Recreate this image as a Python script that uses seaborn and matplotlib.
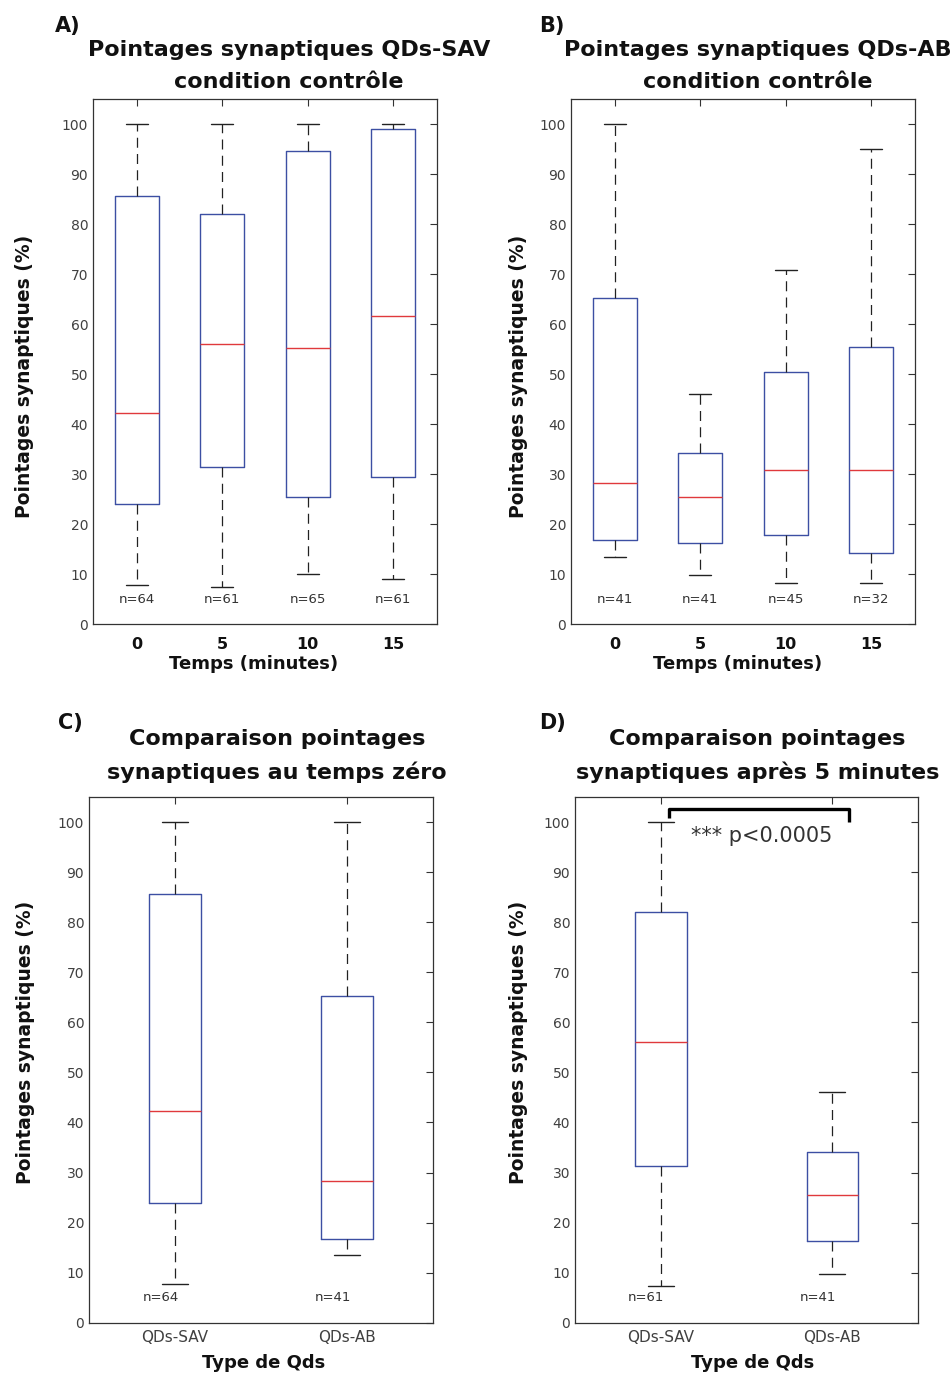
import matplotlib
matplotlib.use("Agg")
import matplotlib.pyplot as plt
import seaborn as sns
import pandas as pd

# --- valeurs (résumés en 5 nombres par boîte) ---
temps = ["0", "5", "10", "15"]

sav_min = [7.8, 7.4, 10.1, 9.1]
sav_q1 = [24.0, 31.4, 25.4, 29.4]
sav_med = [42.2, 56.1, 55.3, 61.6]
sav_q3 = [85.7, 82.0, 94.7, 99.0]
sav_max = [100.0, 100.0, 100.0, 100.0]
sav_n = [64, 61, 65, 61]

ab_min = [13.5, 9.8, 8.3, 8.3]
ab_q1 = [16.8, 16.3, 17.8, 14.2]
ab_med = [28.3, 25.5, 30.9, 30.9]
ab_q3 = [65.3, 34.2, 50.4, 55.5]
ab_max = [100.0, 46.0, 70.9, 95.1]
ab_n = [41, 41, 45, 32]

types_qds = ["QDs-SAV", "QDs-AB"]
p_texte = "*** p<0.0005"

BLEU = "#3c4fa3"
ROUGE = "#e0393c"
GRIS = "#333333"


def stats_frame(labels, mins, q1s, meds, q3s, maxs):
    """Cinq valeurs par groupe -> quartiles exacts avec whis=(0, 100)"""
    rows = []
    for lab, a, b, c, d, e in zip(labels, mins, q1s, meds, q3s, maxs):
        for v in (a, b, c, d, e):
            rows.append({"groupe": lab, "valeur": v})
    return pd.DataFrame(rows)


def draw_box(ax, df, order, width):
    sns.boxplot(data=df, x="groupe", y="valeur", order=order, ax=ax,
                whis=(0, 100), width=width, fill=False, color=BLEU,
                saturation=1, linewidth=1.0, showfliers=False,
                medianprops=dict(color=ROUGE, linewidth=1.0),
                whiskerprops=dict(color="#222222", linestyle=(0, (8, 5)), linewidth=0.9),
                capprops=dict(color="#222222", linewidth=1.0))


def style_axes(ax, n_cat):
    ax.set_ylim(0, 105)
    ax.set_yticks(range(0, 101, 10))
    marge = 0.015 if n_cat == 4 else 0
    ax.set_xlim(-0.5 - marge, n_cat - 0.5 + marge)
    ax.tick_params(direction="in", length=5, width=0.8, top=True, right=True,
                   colors=GRIS, labelcolor="#404040", labelsize=10)
    ax.tick_params(axis="y", pad=3.5)
    for sp in ax.spines.values():
        sp.set_visible(True)
        sp.set_color(GRIS)
        sp.set_linewidth(0.9)


sns.set_style("white")
plt.rcParams["font.family"] = ["DejaVu Sans"]

fig = plt.figure(figsize=(9.53, 13.77), dpi=100)

ax_a = fig.add_axes([0.0976, 0.5468, 0.3610, 0.3813])
ax_b = fig.add_axes([0.5992, 0.5468, 0.3610, 0.3813])
ax_c = fig.add_axes([0.0934, 0.0394, 0.3610, 0.3818])
ax_d = fig.add_axes([0.6034, 0.0394, 0.3600, 0.3818])

# A) et B) : évolution dans le temps
for ax, mins, q1s, meds, q3s, maxs, ns in [
        (ax_a, sav_min, sav_q1, sav_med, sav_q3, sav_max, sav_n),
        (ax_b, ab_min, ab_q1, ab_med, ab_q3, ab_max, ab_n)]:
    draw_box(ax, stats_frame(temps, mins, q1s, meds, q3s, maxs), temps, 0.515)
    style_axes(ax, 4)
    for i, n in enumerate(ns):
        ax.text(i, 5, f"n={n}", ha="center", va="center", fontsize=9.5, color=GRIS)
    ax.set_xticks(range(4))
    ax.set_xticklabels(temps, fontsize=11.5, fontweight="bold", color="#111111")
    ax.tick_params(axis="x", pad=9)

# C) temps zéro, D) après 5 minutes
for ax, k, ns in [(ax_c, 0, [sav_n[0], ab_n[0]]), (ax_d, 1, [sav_n[1], ab_n[1]])]:
    df = stats_frame(types_qds, [sav_min[k], ab_min[k]], [sav_q1[k], ab_q1[k]],
                     [sav_med[k], ab_med[k]], [sav_q3[k], ab_q3[k]],
                     [sav_max[k], ab_max[k]])
    draw_box(ax, df, types_qds, 0.3)
    style_axes(ax, 2)
    for i, n in enumerate(ns):
        ax.text(i - 0.19, 5, f"n={n}", ha="left", va="center", fontsize=9.5, color=GRIS)
    ax.set_xticks(range(2))
    ax.set_xticklabels(types_qds, fontsize=11, color="#404040")
    ax.tick_params(axis="x", pad=5)

# crochet de significativité sur D)
ax_d.plot([0.047, 0.047, 1.095, 1.095], [100.9, 102.7, 102.7, 100.0],
          color="black", linewidth=2.4, solid_capstyle="butt", clip_on=False)
ax_d.text(0.59, 97.3, p_texte, ha="center", va="center", fontsize=15, color=GRIS)

# étiquettes d'axes
lab_kw = dict(fontsize=13.5, fontweight="bold", color="#111111", va="center")
for ax, xl, xy, yx, yy in [(ax_a, "Temps (minutes)", (0.468, -0.077), -0.198, 0.472),
                           (ax_b, "Temps (minutes)", (0.483, -0.077), -0.154, 0.472),
                           (ax_c, "Type de Qds", (0.509, -0.077), -0.186, 0.534),
                           (ax_d, "Type de Qds", (0.519, -0.077), -0.166, 0.534)]:
    ax.set_xlabel(xl, fontsize=13, fontweight="bold", color="#111111", va="center")
    ax.xaxis.set_label_coords(*xy)
    ax.set_ylabel("Pointages synaptiques (%)", **lab_kw)
    ax.yaxis.set_label_coords(yx, yy)

# titres et lettres des panneaux
titre_kw = dict(ha="center", va="center", fontsize=16, fontweight="bold",
                color="#111111", linespacing=1.7)
fig.text(0.303, 0.952, "Pointages synaptiques QDs-SAV\ncondition contrôle", **titre_kw)
fig.text(0.795, 0.952, "Pointages synaptiques QDs-AB\ncondition contrôle", **titre_kw)
fig.text(0.2907, 0.451, "Comparaison pointages\nsynaptiques au temps zéro", **titre_kw)
fig.text(0.795, 0.451, "Comparaison pointages\nsynaptiques après 5 minutes", **titre_kw)

lettre_kw = dict(ha="left", va="center", fontsize=15, fontweight="bold", color="#111111")
fig.text(0.058, 0.981, "A)", **lettre_kw)
fig.text(0.566, 0.981, "B)", **lettre_kw)
fig.text(0.061, 0.475, "C)", **lettre_kw)
fig.text(0.566, 0.475, "D)", **lettre_kw)

fig.savefig("out.png", dpi=100)
